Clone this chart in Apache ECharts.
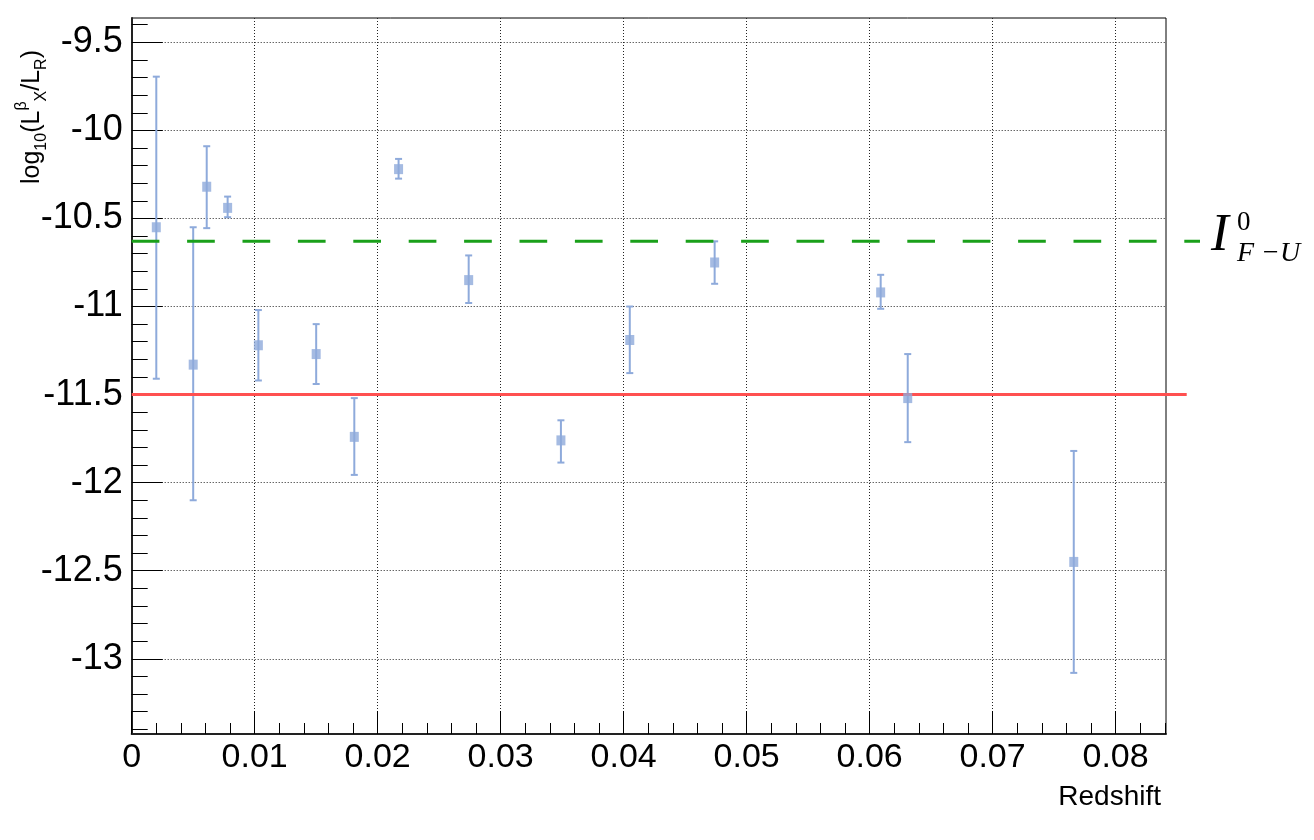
<!DOCTYPE html>
<html>
<head>
<meta charset="utf-8">
<script src="https://cdn.jsdelivr.net/npm/echarts@6/dist/echarts.min.js"></script>
<style>
html,body{margin:0;padding:0;background:#fff;}
#chart{width:1314px;height:840px;}
</style>
</head>
<body>
<div id="chart"></div>
<script>
// ---- data ----
const redshift = [0.0020, 0.0050, 0.0061, 0.0078, 0.0103, 0.0150, 0.0181, 0.0217, 0.0274, 0.0349, 0.0405, 0.0474, 0.0609, 0.0631, 0.0766];
const logRatio = [-10.55, -11.33, -10.32, -10.44, -11.22, -11.27, -11.74, -10.22, -10.85, -11.76, -11.19, -10.75, -10.92, -11.52, -12.45];
const errUpper = [-9.695, -10.55, -10.09, -10.376, -11.02, -11.10, -11.52, -10.162, -10.71, -11.646, -11.00, -10.63, -10.82, -11.27, -11.82];
const errLower = [-11.41, -12.10, -10.555, -10.493, -11.42, -11.44, -11.956, -10.274, -10.98, -11.886, -11.378, -10.871, -11.013, -11.77, -13.08];

const fuLevel = -10.63;   // I^0_{F-U} dashed level
const redLevel = -11.5;   // solid red level
const fuLineEnd = 0.08685;
const redLineEnd = 0.08577;

const xMin = 0, xMax = 0.0841;
const yMin = -13.427, yMax = -9.362;

const xMajorTicks = [0, 0.01, 0.02, 0.03, 0.04, 0.05, 0.06, 0.07, 0.08];
const xMinorTicks = [0.002, 0.004, 0.006, 0.008, 0.012, 0.014, 0.016, 0.018, 0.022, 0.024, 0.026, 0.028,
  0.032, 0.034, 0.036, 0.038, 0.042, 0.044, 0.046, 0.048, 0.052, 0.054, 0.056, 0.058,
  0.062, 0.064, 0.066, 0.068, 0.072, 0.074, 0.076, 0.078, 0.082, 0.084];
const yMajorTicks = [-13, -12.5, -12, -11.5, -11, -10.5, -10, -9.5];
const yMinorTicks = [-13.4, -13.3, -13.2, -13.1, -12.9, -12.8, -12.7, -12.6, -12.4, -12.3, -12.2, -12.1,
  -11.9, -11.8, -11.7, -11.6, -11.4, -11.3, -11.2, -11.1, -10.9, -10.8, -10.7, -10.6,
  -10.4, -10.3, -10.2, -10.1, -9.9, -9.8, -9.7, -9.6, -9.4];

const xTitle = 'Redshift';

const pointColor = '#8eaadb';
const FONT = '"Liberation Sans", Arial, sans-serif';

const chart = echarts.init(document.getElementById('chart'), null, {renderer: 'canvas'});

const errData = redshift.map((x, i) => [x, errLower[i], errUpper[i]]);
const ptData = redshift.map((x, i) => [x, logRatio[i]]);

const option = {
  backgroundColor: '#fff',
  animation: false,
  grid: [
    {left: 131.7, top: 18, right: 148, bottom: 106, show: true, borderColor: '#000', borderWidth: 1, backgroundColor: 'transparent'},
    {left: 131.7, top: 18, right: 114, bottom: 106, show: false}
  ],
  xAxis: [
    {
      type: 'value', gridIndex: 0, min: xMin, max: xMax, interval: 0.01, position: 'bottom',
      name: xTitle, nameLocation: 'end', nameGap: -5,
      nameTextStyle: {fontFamily: FONT, fontSize: 28, color: '#000', align: 'right', verticalAlign: 'top', padding: [49, 0, 0, 0]},
      axisLine: {show: true, onZero: false, lineStyle: {color: '#222', width: 2}},
      axisTick: {show: true, inside: true, length: 23, customValues: xMajorTicks, lineStyle: {color: '#000', width: 1}},
      axisLabel: {show: true, customValues: xMajorTicks, fontFamily: FONT, fontSize: 34, color: '#000', margin: 7},
      splitLine: {show: true, lineStyle: {color: '#222', type: [1, 2], width: 1}}
    },
    {
      type: 'value', gridIndex: 0, min: xMin, max: xMax, interval: 0.01, position: 'bottom',
      axisLine: {show: false, onZero: false},
      axisTick: {show: true, inside: true, length: 11, customValues: xMinorTicks, lineStyle: {color: '#000', width: 1}},
      axisLabel: {show: false},
      splitLine: {show: false}
    },
    {
      type: 'value', gridIndex: 1, min: xMin, max: fuLineEnd, show: false
    }
  ],
  yAxis: [
    {
      type: 'value', gridIndex: 0, min: yMin, max: yMax, splitNumber: 8, position: 'left',
      name: '{n|log}{s|10}{n|(L}{p|β}{s|X}{n|/L}{s|R}{n|)}',
      nameLocation: 'end', nameRotate: 90, nameGap: -32,
      nameTextStyle: {
        align: 'right', verticalAlign: 'bottom', padding: [0, 0, 82, 0],
        rich: {
          n: {fontFamily: FONT, fontSize: 25, color: '#000', lineHeight: 36, verticalAlign: 'middle'},
          s: {fontFamily: FONT, fontSize: 16, color: '#000', lineHeight: 36, verticalAlign: 'bottom'},
          p: {fontFamily: FONT, fontSize: 16, color: '#000', lineHeight: 36, verticalAlign: 'top'}
        }
      },
      axisLine: {show: true, onZero: false, lineStyle: {color: '#222', width: 2}},
      axisTick: {show: true, inside: true, length: 31, customValues: yMajorTicks, lineStyle: {color: '#000', width: 1}},
      axisLabel: {show: true, customValues: yMajorTicks, fontFamily: FONT, fontSize: 36, color: '#000', margin: 9},
      splitLine: {show: true, lineStyle: {color: '#222', type: [1, 2], width: 1}}
    },
    {
      type: 'value', gridIndex: 0, min: yMin, max: yMax, splitNumber: 8, position: 'left',
      axisLine: {show: false, onZero: false},
      axisTick: {show: true, inside: true, length: 16, customValues: yMinorTicks, lineStyle: {color: '#000', width: 1}},
      axisLabel: {show: false},
      splitLine: {show: false}
    },
    {
      type: 'value', gridIndex: 1, min: yMin, max: yMax, show: false
    }
  ],
  graphic: [
    {type: 'text', x: 1211, y: 236, z: 10, style: {text: 'I', font: 'italic 53px "Liberation Serif", serif', fill: '#000', verticalAlign: 'middle', align: 'left'}},
    {type: 'text', x: 1237, y: 223, z: 10, style: {text: '0', font: '27px "Liberation Serif", serif', fill: '#000', verticalAlign: 'middle', align: 'left'}},
    {type: 'text', x: 1237, y: 254, z: 10, style: {text: 'F −U', font: 'italic 28px "Liberation Serif", serif', fill: '#000', verticalAlign: 'middle', align: 'left'}}
  ],
  series: [
    {
      type: 'custom', xAxisIndex: 0, yAxisIndex: 0, z: 2,
      data: errData,
      renderItem: function (params, api) {
        const x = api.value(0);
        const pLo = api.coord([x, api.value(1)]);
        const pHi = api.coord([x, api.value(2)]);
        const cap = 3.5;
        const st = {stroke: pointColor, lineWidth: 2};
        return {
          type: 'group',
          children: [
            {type: 'line', shape: {x1: pLo[0], y1: pLo[1], x2: pHi[0], y2: pHi[1]}, style: st},
            {type: 'line', shape: {x1: pLo[0] - cap, y1: pLo[1], x2: pLo[0] + cap, y2: pLo[1]}, style: st},
            {type: 'line', shape: {x1: pHi[0] - cap, y1: pHi[1], x2: pHi[0] + cap, y2: pHi[1]}, style: st}
          ]
        };
      }
    },
    {
      type: 'scatter', xAxisIndex: 0, yAxisIndex: 0, z: 4,
      symbol: 'rect', symbolSize: [9, 10],
      itemStyle: {color: pointColor},
      data: ptData
    },
    {
      type: 'line', xAxisIndex: 2, yAxisIndex: 2, z: 3, showSymbol: false, silent: true,
      lineStyle: {color: '#1aa01a', width: 3, type: [27.7, 27.7]},
      data: [[0, fuLevel], [fuLineEnd, fuLevel]]
    },
    {
      type: 'line', xAxisIndex: 2, yAxisIndex: 2, z: 3, showSymbol: false, silent: true,
      lineStyle: {color: '#ff5050', width: 3},
      data: [[0, redLevel], [redLineEnd, redLevel]]
    }
  ]
};
chart.setOption(option);
</script>
</body>
</html>
